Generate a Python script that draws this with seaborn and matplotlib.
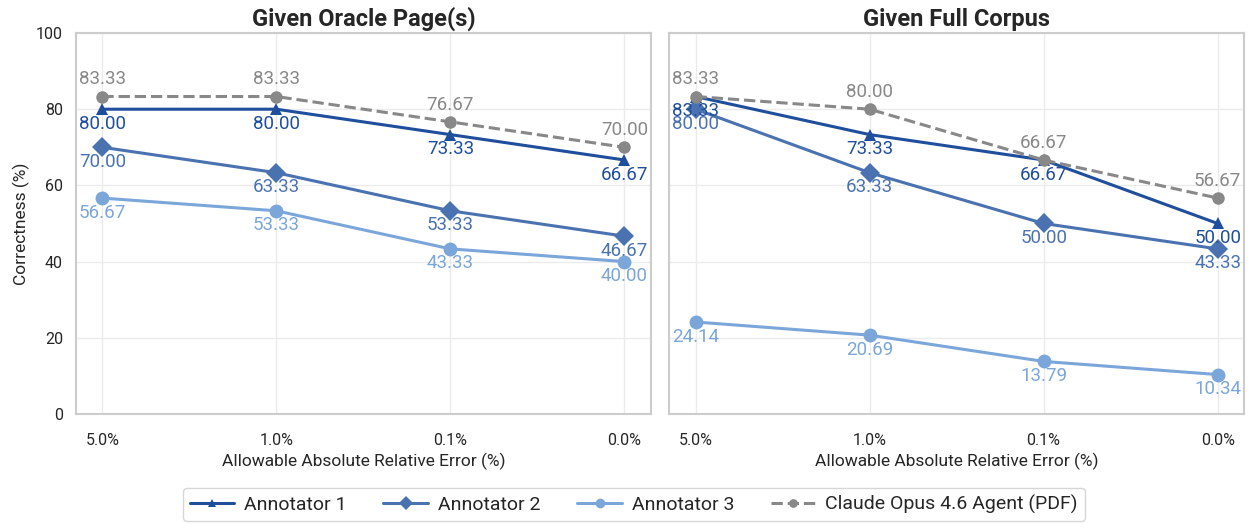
import pandas as pd
import seaborn as sns
import matplotlib.pyplot as plt

tolerances = ["5.0%", "1.0%", "0.1%", "0.0%"]
series_names = ["Annotator 1", "Annotator 2", "Annotator 3", "Claude Opus 4.6 Agent (PDF)"]

oracle_a1 = [80.00, 80.00, 73.33, 66.67]
oracle_a2 = [70.00, 63.33, 53.33, 46.67]
oracle_a3 = [56.67, 53.33, 43.33, 40.00]
oracle_claude = [83.33, 83.33, 76.67, 70.00]

corpus_a1 = [83.33, 73.33, 66.67, 50.00]
corpus_a2 = [80.00, 63.33, 50.00, 43.33]
corpus_a3 = [24.14, 20.69, 13.79, 10.34]
corpus_claude = [83.33, 80.00, 66.67, 56.67]

panels = {
    "Given Oracle Page(s)": [oracle_a1, oracle_a2, oracle_a3, oracle_claude],
    "Given Full Corpus": [corpus_a1, corpus_a2, corpus_a3, corpus_claude],
}

colors = ["#1f4e9c", "#4a72b0", "#7ba6d9", "#888888"]
markers = ["^", "D", "o", "o"]
msizes = [9, 10, 10, 9]
dashes = ["-", "-", "-", "--"]

sns.set_theme(style="whitegrid")
plt.rcParams["font.family"] = ["Roboto", "DejaVu Sans"]
plt.rcParams["axes.edgecolor"] = "#cccccc"
plt.rcParams["grid.color"] = "#ebebeb"

fig, axes = plt.subplots(1, 2, figsize=(12.5, 5.24), dpi=100, sharey=True)
fig.subplots_adjust(left=0.061, right=0.995, top=0.937, bottom=0.21, wspace=0.033)

for ax, (title, values) in zip(axes, panels.items()):
    for i, name in enumerate(series_names):
        df = pd.DataFrame({"x": range(len(tolerances)), "y": values[i]})
        sns.lineplot(data=df, x="x", y="y", ax=ax, color=colors[i], marker=markers[i],
                     markersize=msizes[i], linestyle=dashes[i], linewidth=2.2,
                     markeredgewidth=0, label=name, legend=False)
        for xi, yi in zip(df["x"], df["y"]):
            if i == 3:
                ax.annotate(f"{yi:.2f}", (xi, yi), xytext=(0, 6), textcoords="offset points",
                            ha="center", va="bottom", color=colors[i], fontsize=13.5)
            else:
                ax.annotate(f"{yi:.2f}", (xi, yi), xytext=(0, -4), textcoords="offset points",
                            ha="center", va="top", color=colors[i], fontsize=13.5)
    ax.set_title(title, fontsize=17, fontweight="bold", pad=5)
    ax.set_xticks(range(len(tolerances)))
    ax.set_xticklabels(tolerances)
    ax.set_xlim(-0.15, 3.15)
    ax.set_ylim(0, 100)
    ax.set_xlabel("Allowable Absolute Relative Error (%)", fontsize=12.5, labelpad=3)
    ax.tick_params(labelsize=11.5)
    ax.tick_params(axis="x", pad=8)
    for s in ax.spines.values():
        s.set_linewidth(1.5)

axes[0].set_ylabel("Correctness (%)", fontsize=12.5)
axes[1].set_ylabel("")

handles, labels = axes[0].get_legend_handles_labels()
fig.legend(handles, labels, loc="lower center", ncol=4, bbox_to_anchor=(0.507, 0.0),
           fontsize=14, frameon=True, edgecolor="#cccccc", fancybox=True,
           columnspacing=1.9, handlelength=2.3, handletextpad=0.5, markerscale=0.7,
           borderpad=0.35, borderaxespad=0.15)

plt.savefig("out.png", dpi=100)
plt.close()
